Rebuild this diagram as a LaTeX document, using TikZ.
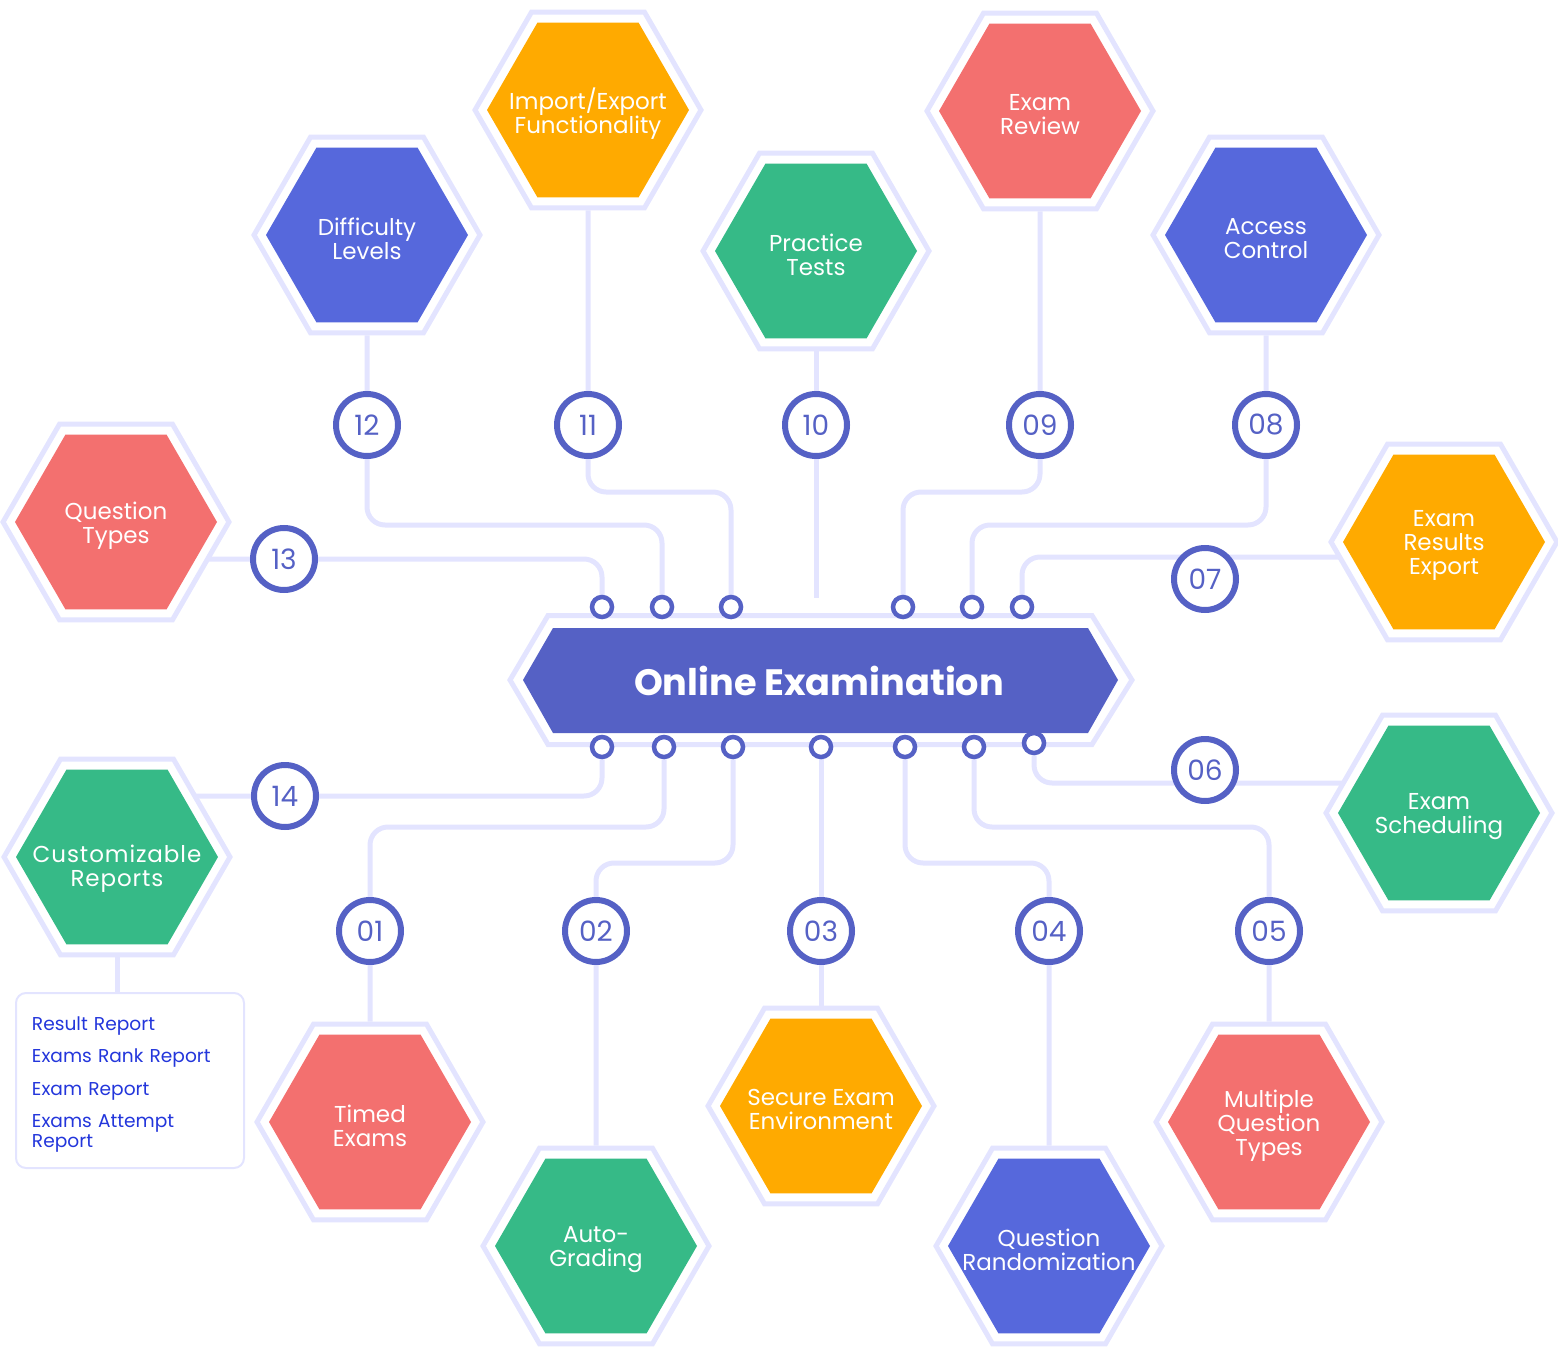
\documentclass[tikz,border=0pt]{standalone}
\usepackage{fontspec}
\setmainfont{Poppins}
\usetikzlibrary{shapes.geometric,backgrounds,calc}
\definecolor{lav}{HTML}{E3E4FF}
\definecolor{ink}{HTML}{5561C5}
\definecolor{hblue}{HTML}{5668DC}
\definecolor{horange}{HTML}{FFAA00}
\definecolor{hcoral}{HTML}{F3706F}
\definecolor{hgreen}{HTML}{36BA87}
\definecolor{repblue}{HTML}{2336DB}
\tikzstyle{hexring}=[regular polygon, regular polygon sides=6, draw=lav, line width=2.5pt, fill=white, minimum size=113pt, inner sep=0pt]
\tikzstyle{hexfill}=[regular polygon, regular polygon sides=6, minimum size=101pt, inner sep=0pt]
\tikzstyle{hextext}=[text=white, align=center, yshift=-1.75pt, font=\fontsize{11.5}{12}\selectfont]
\tikzstyle{num}=[circle, draw=ink, line width=3pt, fill=white, minimum size=31pt, inner sep=0pt, text=ink, font=\fontsize{14}{14}\selectfont]
\tikzstyle{pin}=[circle, draw=ink, line width=2.25pt, fill=white, minimum size=10pt, inner sep=0pt]
\tikzstyle{wire}=[draw=lav, line width=2.5pt, rounded corners=9pt]
\tikzstyle{core}=[text=white, font=\fontsize{18.35}{20}\selectfont\bfseries]
\tikzstyle{report}=[draw=lav, line width=1pt, rounded corners=5pt, minimum width=114pt, minimum height=87.5pt, text width=98pt, inner xsep=8pt, align=left, text=repblue, font=\fontsize{9.3}{10}\selectfont]
\newcommand{\num}{\node[num]}
\newcommand{\pin}{\node[pin]}
\newcommand{\hexa}[4]{%
  \node[hexring] (#1) at (#2) {};
  \node[hexfill, fill=#3] (#1f) at (#1) {};
  \node[hextext] (#1t) at (#1) {#4};
}

\begin{document}
\begin{tikzpicture}[x=0.5pt, y=-0.5pt]
\useasboundingbox (0,0) rectangle (1558,1348);

% feature hexagons
\hexa{h12}{367,235}{hblue}{Difficulty\\Levels}
\hexa{h11}{588,110}{horange}{Import/Export\\Functionality}
\hexa{h10}{816,251}{hgreen}{Practice\\Tests}
\hexa{h09}{1040,111}{hcoral}{Exam\\Review}
\hexa{h08}{1266,235}{hblue}{Access\\Control}
\hexa{h13}{116,522}{hcoral}{Question\\Types}
\hexa{h07}{1444,542}{horange}{Exam\\Results\\Export}
\hexa{h06}{1439,813}{hgreen}{Exam\\Scheduling}
\hexa{h14}{117,857}{hgreen}{\rule{0pt}{16.6pt}\addfontfeatures{LetterSpace=4}Customizable\\\addfontfeatures{LetterSpace=4}Reports}
\hexa{h01}{370,1122}{hcoral}{Timed\\Exams}
\hexa{h02}{596,1246}{hgreen}{Auto-\\Grading}
\hexa{h03}{821,1106}{horange}{Secure Exam\\Environment}
\hexa{h04}{1049,1246}{hblue}{Question\\Randomization}
\hexa{h05}{1269,1122}{hcoral}{Multiple\\Question\\Types}

% centre banner
\filldraw[fill=white, draw=lav, line width=2.5pt] (510,680) -- (548,615.5) -- (1092,615.5) -- (1132,680) -- (1092,744.5) -- (548,744.5) -- cycle;
\fill[ink] (523,680) -- (553,628) -- (1088,628) -- (1118,680) -- (1088,733) -- (553,733) -- cycle;
\node[core] (core) at (819,681) {Online Examination};

% pins on the banner
\pin (dt1) at (602,607) {};
\pin (dt2) at (662,607) {};
\pin (dt3) at (731,607) {};
\pin (dt4) at (903,607) {};
\pin (dt5) at (972,607) {};
\pin (dt6) at (1022,607) {};
\pin (db1) at (602,747) {};
\pin (db2) at (664,747) {};
\pin (db3) at (733,747) {};
\pin (db4) at (821,747) {};
\pin (db5) at (905,747) {};
\pin (db6) at (974,747) {};
\pin (db7) at (1034,743) {};

% numbers
\num (n12) at (367,425) {12};
\num (n11) at (588,425) {11};
\num (n10) at (816,425) {10};
\num (n09) at (1040,425) {09};
\num (n08) at (1266,425) {08};
\num (n13) at (284,559) {13};
\num (n07) at (1205,579) {07};
\num (n06) at (1205,770) {06};
\num (n14) at (285,796) {14};
\num (n01) at (370,931) {01};
\num (n02) at (596,931) {02};
\num (n03) at (821,931) {03};
\num (n04) at (1049,931) {04};
\num (n05) at (1269,931) {05};

% report list
\node[report] (rep) at (130,1080.5) {\rule{0pt}{11pt}Result Report\\[6.25pt]Exams Rank Report\\[6.25pt]Exam Report\\[6.25pt]Exams Attempt\\Report};

\coordinate (e10) at (816,598);

\begin{pgfonlayer}{background}
\draw[wire] (h12) -- (n12) -- ++(0,100) -| (dt2);
\draw[wire] (h11) -- (n11) -- ++(0,67) -| (dt3);
\draw[wire] (h10) -- (n10) -- (e10);
\draw[wire] (h09) -- (n09) -- ++(0,67) -| (dt4);
\draw[wire] (h08) -- (n08) -- ++(0,100) -| (dt5);
\draw[wire] (h13 |- n13) -| (dt1);
\draw[wire] (dt6) |- ($(h07)+(0,15)$);
\draw[wire] (db7) |- ($(h06)+(0,-30)$);
\draw[wire] ($(h14)+(0,-61)$) -| (db1);
\draw[wire] (db2) -- ++(0,80) -| (n01) -- (h01);
\draw[wire] (db3) -- ++(0,116) -| (n02) -- (h02);
\draw[wire] (db4) -- (n03) -- (h03);
\draw[wire] (db5) -- ++(0,116) -| (n04) -- (h04);
\draw[wire] (db6) -- ++(0,80) -| (n05) -- (h05);
\draw[wire] (h14) -- (h14 |- rep.north);
\end{pgfonlayer}
\end{tikzpicture}
\end{document}
